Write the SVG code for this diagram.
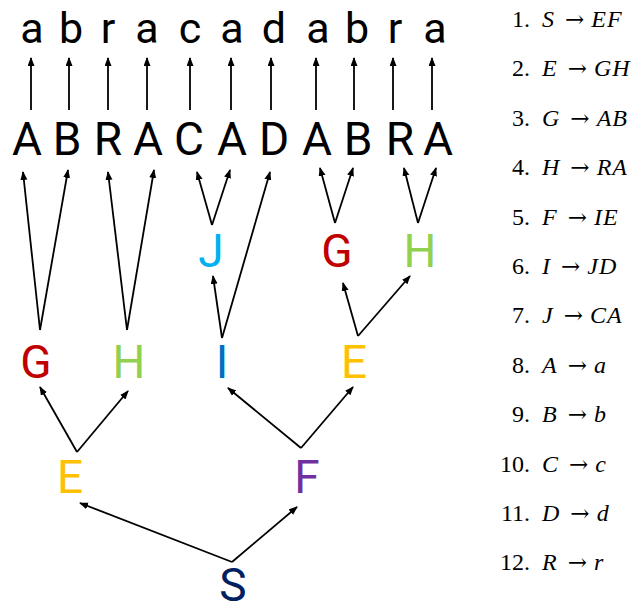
<svg xmlns="http://www.w3.org/2000/svg" width="644" height="606" viewBox="0 0 644 606">
<defs>
<style>
.lc{font-family:Roboto,"Liberation Sans",sans-serif;font-size:43px;fill:#000;text-anchor:middle}
.uc{font-family:Roboto,"Liberation Sans",sans-serif;font-size:46px;fill:#000;text-anchor:middle}
.nd{font-family:Roboto,"Liberation Sans",sans-serif;font-size:46px;text-anchor:middle}
.num{font-family:"Liberation Serif","DejaVu Serif",serif;font-size:24px;fill:#000;text-anchor:end}
.rule{font-family:"Liberation Serif","DejaVu Serif",serif;font-size:24px;fill:#000}
.v{font-style:italic;letter-spacing:1px}
.ar{font-family:"DejaVu Serif","DejaVu Sans",serif;font-size:23px;font-style:normal;letter-spacing:0}
#connectors line{stroke:#000;stroke-width:1.8;fill:none;marker-end:url(#ah)}
</style>
<marker id="ah" markerUnits="userSpaceOnUse" markerWidth="10" markerHeight="8" refX="8" refY="3.5" orient="auto">
<path d="M0,0 L9,3.5 L0,7 z" fill="#000"/>
</marker>
</defs>
<rect width="644" height="606" fill="#fff"/>

<g id="terminals">
<text class="lc" x="32" y="43">a</text>
<text class="lc" x="71" y="43">b</text>
<text class="lc" x="108" y="43">r</text>
<text class="lc" x="147" y="43">a</text>
<text class="lc" x="190" y="43">c</text>
<text class="lc" x="232" y="43">a</text>
<text class="lc" x="274" y="43">d</text>
<text class="lc" x="318" y="43">a</text>
<text class="lc" x="357" y="43">b</text>
<text class="lc" x="395" y="43">r</text>
<text class="lc" x="435" y="43">a</text>
</g>

<g id="preterminals">
<text class="uc" x="27" y="155">A</text>
<text class="uc" x="67" y="155">B</text>
<text class="uc" x="108" y="155">R</text>
<text class="uc" x="148" y="155">A</text>
<text class="uc" x="189" y="155">C</text>
<text class="uc" x="232" y="155">A</text>
<text class="uc" x="274" y="155">D</text>
<text class="uc" x="317" y="155">A</text>
<text class="uc" x="358" y="155">B</text>
<text class="uc" x="400" y="155">R</text>
<text class="uc" x="438" y="155">A</text>
</g>

<g id="node-J"><text class="nd" x="211" y="267" fill="#00b0f0">J</text></g>
<g id="node-G2"><text class="nd" x="337" y="267" fill="#c00000">G</text></g>
<g id="node-H2"><text class="nd" x="420" y="267" fill="#92d050">H</text></g>
<g id="node-G1"><text class="nd" x="36" y="378" fill="#c00000">G</text></g>
<g id="node-H1"><text class="nd" x="129" y="378" fill="#92d050">H</text></g>
<g id="node-I"><text class="nd" x="222" y="378" fill="#0070c0">I</text></g>
<g id="node-E2"><text class="nd" x="354" y="378" fill="#ffc000">E</text></g>
<g id="node-E1"><text class="nd" x="70" y="493" fill="#ffc000">E</text></g>
<g id="node-F"><text class="nd" x="307" y="493" fill="#7030a0">F</text></g>
<g id="node-S"><text class="nd" x="233" y="601" fill="#002060">S</text></g>

<g id="connectors">
<line x1="31" y1="110" x2="31" y2="58"/>
<line x1="69" y1="110" x2="69" y2="58"/>
<line x1="108" y1="110" x2="108" y2="58"/>
<line x1="147" y1="110" x2="147" y2="58"/>
<line x1="190" y1="110" x2="190" y2="58"/>
<line x1="231" y1="110" x2="231" y2="58"/>
<line x1="271" y1="110" x2="271" y2="58"/>
<line x1="316" y1="110" x2="316" y2="58"/>
<line x1="354" y1="110" x2="354" y2="58"/>
<line x1="393" y1="110" x2="393" y2="58"/>
<line x1="432" y1="110" x2="432" y2="58"/>

<line x1="40" y1="330" x2="23" y2="172"/>
<line x1="40" y1="330" x2="68" y2="170"/>
<line x1="127" y1="330" x2="108" y2="172"/>
<line x1="127" y1="330" x2="154" y2="170"/>
<line x1="212" y1="225" x2="197" y2="172"/>
<line x1="212" y1="225" x2="230" y2="170"/>
<line x1="222" y1="338" x2="213" y2="276"/>
<line x1="222" y1="338" x2="270" y2="172"/>
<line x1="335" y1="223" x2="320" y2="168"/>
<line x1="335" y1="223" x2="353" y2="168"/>
<line x1="418" y1="223" x2="404" y2="168"/>
<line x1="418" y1="223" x2="436" y2="168"/>
<line x1="358" y1="336" x2="343" y2="283"/>
<line x1="358" y1="336" x2="410" y2="276"/>
<line x1="77" y1="452" x2="40" y2="387"/>
<line x1="77" y1="452" x2="128" y2="391"/>
<line x1="301" y1="448" x2="228" y2="388"/>
<line x1="301" y1="448" x2="353" y2="387"/>
<line x1="232" y1="562" x2="80" y2="503"/>
<line x1="232" y1="562" x2="297" y2="507"/>
</g>

<g id="rules">
<text class="num" x="530" y="27">1.</text><text class="rule" x="542" y="27"><tspan class="v">S</tspan><tspan class="ar" dx="10">→</tspan><tspan class="v" dx="7">EF</tspan></text>
<text class="num" x="530" y="76">2.</text><text class="rule" x="542" y="76"><tspan class="v">E</tspan><tspan class="ar" dx="10">→</tspan><tspan class="v" dx="7">GH</tspan></text>
<text class="num" x="530" y="126">3.</text><text class="rule" x="542" y="126"><tspan class="v">G</tspan><tspan class="ar" dx="10">→</tspan><tspan class="v" dx="7">AB</tspan></text>
<text class="num" x="530" y="175">4.</text><text class="rule" x="542" y="175"><tspan class="v">H</tspan><tspan class="ar" dx="10">→</tspan><tspan class="v" dx="7">RA</tspan></text>
<text class="num" x="530" y="225">5.</text><text class="rule" x="542" y="225"><tspan class="v">F</tspan><tspan class="ar" dx="10">→</tspan><tspan class="v" dx="7">IE</tspan></text>
<text class="num" x="530" y="274">6.</text><text class="rule" x="542" y="274"><tspan class="v">I</tspan><tspan class="ar" dx="10">→</tspan><tspan class="v" dx="7">JD</tspan></text>
<text class="num" x="530" y="323">7.</text><text class="rule" x="542" y="323"><tspan class="v">J</tspan><tspan class="ar" dx="10">→</tspan><tspan class="v" dx="7">CA</tspan></text>
<text class="num" x="530" y="373">8.</text><text class="rule" x="542" y="373"><tspan class="v">A</tspan><tspan class="ar" dx="10">→</tspan><tspan class="v" dx="7">a</tspan></text>
<text class="num" x="530" y="422">9.</text><text class="rule" x="542" y="422"><tspan class="v">B</tspan><tspan class="ar" dx="10">→</tspan><tspan class="v" dx="7">b</tspan></text>
<text class="num" x="530" y="472">10.</text><text class="rule" x="542" y="472"><tspan class="v">C</tspan><tspan class="ar" dx="10">→</tspan><tspan class="v" dx="7">c</tspan></text>
<text class="num" x="530" y="521">11.</text><text class="rule" x="542" y="521"><tspan class="v">D</tspan><tspan class="ar" dx="10">→</tspan><tspan class="v" dx="7">d</tspan></text>
<text class="num" x="530" y="570">12.</text><text class="rule" x="542" y="570"><tspan class="v">R</tspan><tspan class="ar" dx="10">→</tspan><tspan class="v" dx="7">r</tspan></text>
</g>
</svg>
